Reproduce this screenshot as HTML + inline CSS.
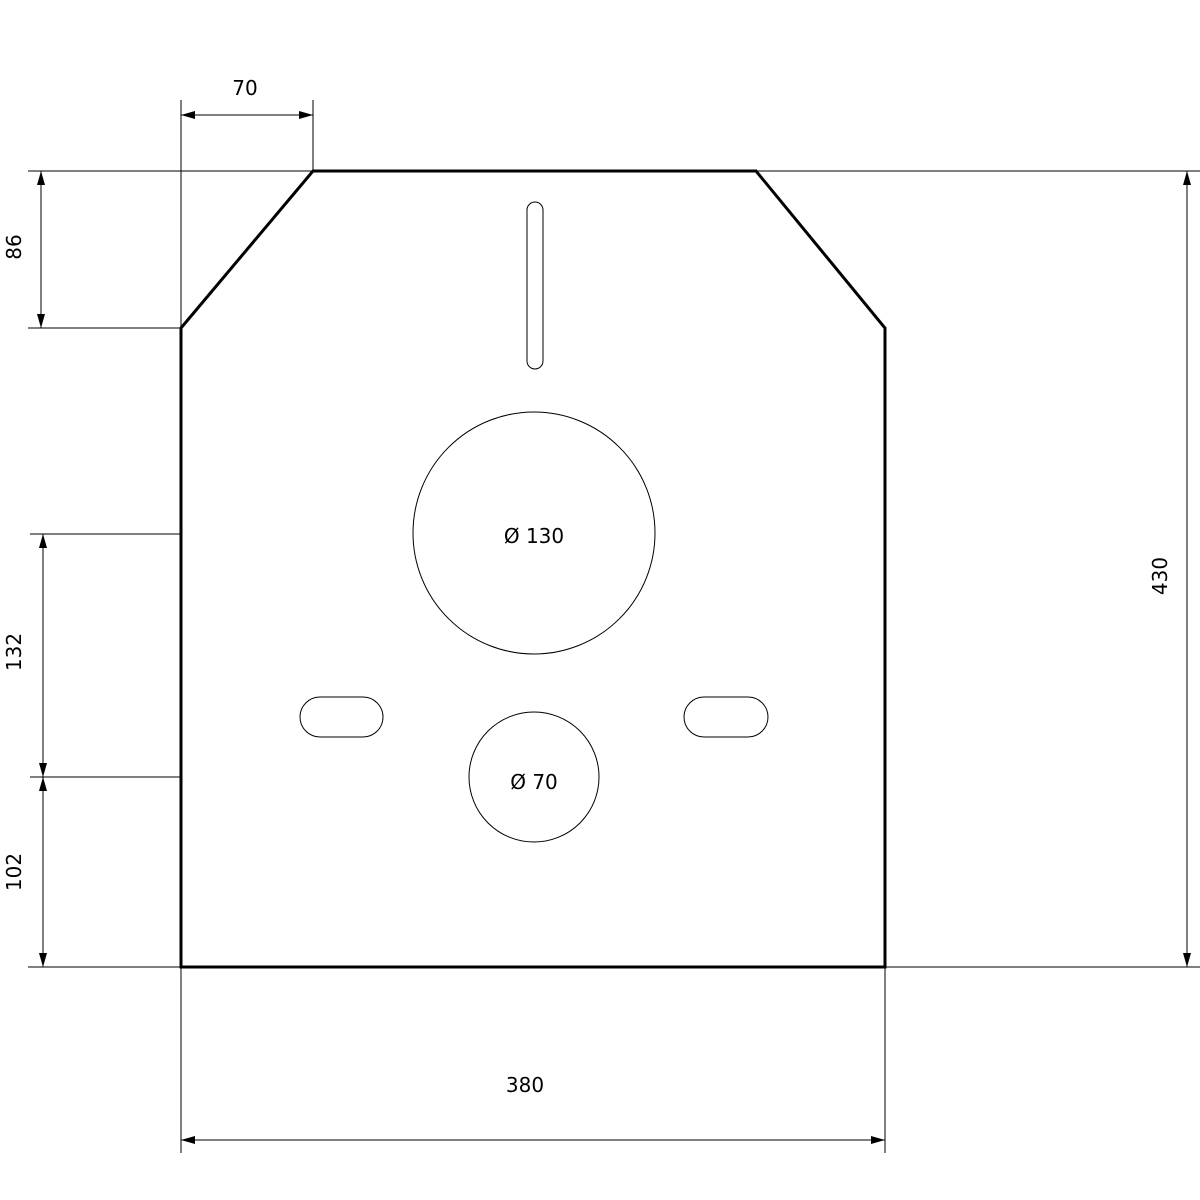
<!DOCTYPE html>
<html><head><meta charset="utf-8"><style>
html,body{margin:0;padding:0;background:#fff;}
svg{display:block;}
text{font-family:"DejaVu Sans","Liberation Sans",sans-serif;font-size:20px;fill:#000;}
</style></head><body>
<svg width="1200" height="1200" viewBox="0 0 1200 1200" xmlns="http://www.w3.org/2000/svg">
<defs>
<marker id="a" viewBox="0 0 14 8" refX="14" refY="4" markerWidth="14" markerHeight="8" markerUnits="userSpaceOnUse" orient="auto-start-reverse">
<path d="M0,0 L14,4 L0,8 Z" fill="#000"/>
</marker>
</defs>
<g stroke="#000" stroke-width="1" fill="none">
<!-- extension lines -->
<line x1="181" y1="100" x2="181" y2="328"/>
<line x1="313" y1="100" x2="313" y2="171"/>
<line x1="28" y1="171" x2="313" y2="171"/>
<line x1="756" y1="171" x2="1200" y2="171"/>
<line x1="28" y1="328" x2="181" y2="328"/>
<line x1="30" y1="534" x2="181" y2="534"/>
<line x1="30" y1="777" x2="181" y2="777"/>
<line x1="28" y1="967" x2="181" y2="967"/>
<line x1="885" y1="967" x2="1200" y2="967"/>
<line x1="181" y1="967" x2="181" y2="1153"/>
<line x1="885" y1="967" x2="885" y2="1153"/>
<!-- dimension lines -->
<line x1="181" y1="115" x2="313" y2="115" marker-start="url(#a)" marker-end="url(#a)"/>
<line x1="41" y1="171" x2="41" y2="328" marker-start="url(#a)" marker-end="url(#a)"/>
<line x1="43" y1="534" x2="43" y2="777" marker-start="url(#a)" marker-end="url(#a)"/>
<line x1="43" y1="777" x2="43" y2="967" marker-start="url(#a)" marker-end="url(#a)"/>
<line x1="1187" y1="171" x2="1187" y2="967" marker-start="url(#a)" marker-end="url(#a)"/>
<line x1="181" y1="1140" x2="885" y2="1140" marker-start="url(#a)" marker-end="url(#a)"/>
<!-- holes -->
<rect x="527" y="202" width="16" height="167" rx="8"/>
<circle cx="534" cy="533" r="121"/>
<circle cx="534" cy="777" r="65"/>
<rect x="300" y="697" width="83" height="40" rx="20"/>
<rect x="684" y="697" width="84" height="40" rx="20"/>
</g>
<path d="M181,328 L313,171 L756,171 L885,328 L885,967 L181,967 Z" fill="none" stroke="#000" stroke-width="3" stroke-linejoin="miter"/>
<text x="245" y="95" text-anchor="middle">70</text>
<text x="525" y="1092" text-anchor="middle">380</text>
<text transform="translate(21,247) rotate(-90)" text-anchor="middle">86</text>
<text transform="translate(21,652) rotate(-90)" text-anchor="middle">132</text>
<text transform="translate(21,872) rotate(-90)" text-anchor="middle">102</text>
<text transform="translate(1167,576) rotate(-90)" text-anchor="middle">430</text>
<text x="534" y="543" text-anchor="middle">Ø 130</text>
<text x="534" y="789" text-anchor="middle">Ø 70</text>
</svg>
</body></html>
